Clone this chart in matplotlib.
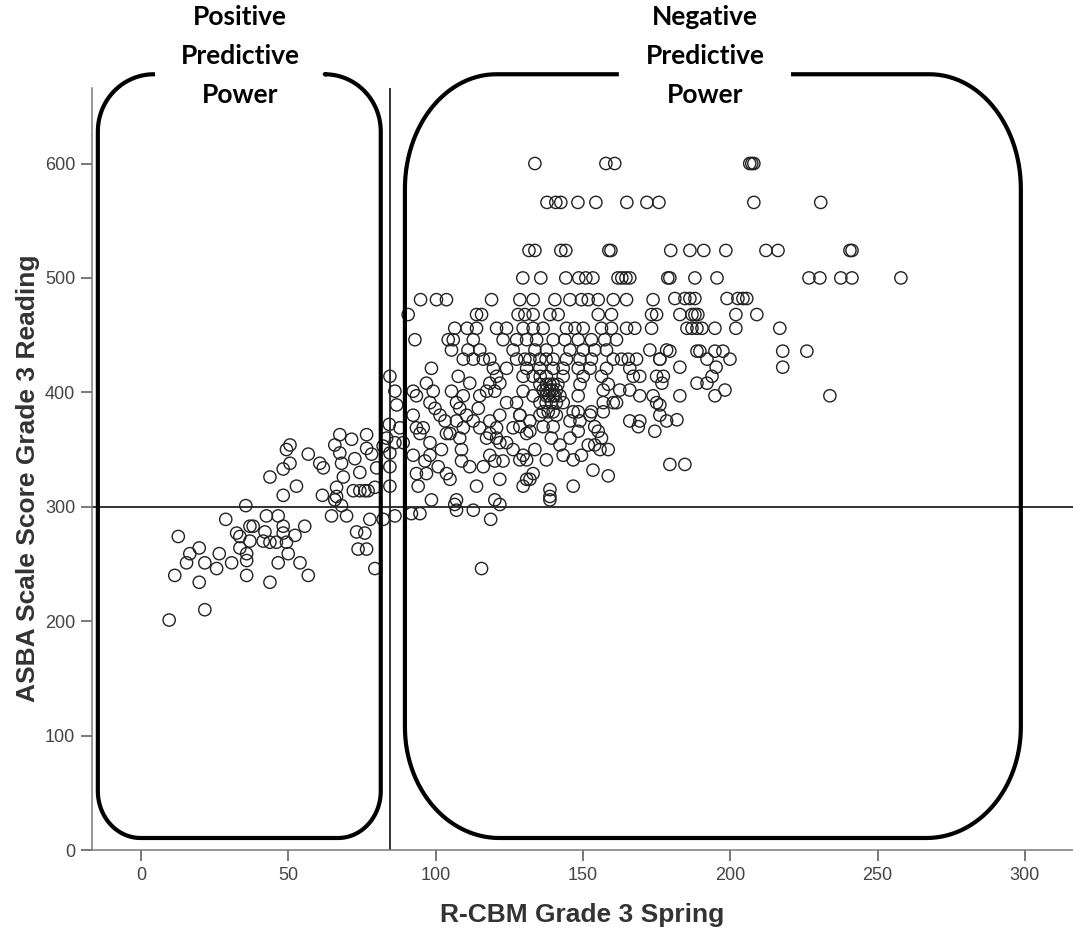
import numpy as np
import matplotlib.pyplot as plt

plt.rcParams['font.family'] = ['Liberation Sans', 'DejaVu Sans']

# left cluster (below the cut score of 85)
left_x = [67.5, 71.5, 76.6, 84.3, 86.8, 50.6, 49.4, 56.8, 65.8, 67.5,
          72.6, 76.6, 78.3, 82.2, 84.5, 50.6, 48.3, 60.7, 61.9, 68.1,
          74.3, 80.0, 84.5, 43.8, 52.8, 68.7, 66.4, 72.1, 74.3, 76.0,
          77.1, 79.4, 84.5, 48.3, 61.6, 65.8, 68.1, 66.4, 35.6, 64.7,
          69.8, 77.7, 82.2, 86.2, 28.8, 42.6, 46.6, 37.0, 38.1, 48.3,
          55.6, 12.7, 32.5, 33.6, 42.1, 48.3, 52.3, 73.2, 76.0, 37.0,
          41.5, 43.8, 46.0, 49.4, 73.7, 76.6, 19.8, 16.6, 26.6, 33.6,
          35.9, 50.0, 54.0, 46.6, 15.5, 21.7, 25.7, 30.8, 35.9, 11.5,
          35.9, 43.8, 56.8, 19.8, 79.4, 21.7, 9.6]
left_y = [363, 359, 363, 372, 389, 354, 350, 346, 354, 347,
          342, 351, 346, 353, 347, 338, 333, 338, 334, 338,
          330, 334, 335, 326, 318, 326, 317, 314, 314, 314,
          314, 317, 318, 310, 310, 306, 301, 309, 301, 292,
          292, 289, 289, 292, 289, 292, 292, 283, 283, 283,
          283, 274, 277, 274, 278, 277, 275, 278, 277, 270,
          270, 269, 269, 269, 263, 263, 264, 259, 259, 264,
          259, 259, 251, 251, 251, 251, 246, 251, 253, 240,
          240, 234, 240, 234, 246, 210, 201]

# (score, [R-CBM values]) rows, x 84-131
mid_rows = [
    (481, [94.9, 100.3, 103.7, 119.0, 128.6]),
    (468, [90.7, 113.9, 115.6, 128.0, 130.3]),
    (456, [106.5, 110.7, 113.9, 120.7, 124.1, 129.7]),
    (446, [93.0, 104.3, 106.0, 112.8, 122.9, 127.5, 130.9]),
    (437, [105.4, 111.0, 115.0, 126.3]),
    (429, [109.4, 112.8, 116.2, 118.4, 127.5, 130.3]),
    (421, [98.6, 119.6, 124.1]),
    (414, [84.5, 107.7, 120.7, 129.7]),
    (408, [96.9, 111.6, 118.4, 121.8]),
    (401, [86.2, 92.4, 99.2, 105.4, 117.3, 120.1, 129.7]),
    (397, [93.5, 109.4, 115.0]),
    (391, [98.1, 107.1, 124.1, 127.5]),
    (386, [99.8, 108.2, 114.5]),
    (380, [92.4, 101.5, 110.5, 121.8, 128.6]),
    (375, [103.2, 107.1, 112.8, 118.4]),
    (369, [87.9, 93.5, 95.8, 109.4, 115.0, 120.7, 126.3]),
    (364, [94.7, 103.7, 104.9, 118.4, 130.9]),
    (360, [83.4, 108.2, 117.3, 120.7]),
    (356, [86.2, 89.0, 98.1, 121.8, 124.1]),
    (350, [102.0, 108.8, 126.3]),
    (345, [92.4, 98.1, 118.4, 129.7]),
    (340, [96.4, 108.8, 120.1, 122.9]),
    (335, [100.9, 111.6, 116.2]),
    (329, [93.5, 96.9, 103.7]),
    (324, [104.9, 121.8]),
    (318, [94.1, 113.9, 129.7]),
    (306, [98.6, 107.1, 120.1, 138.8]),
    (302, [106.5, 121.8]),
    (297, [107.1, 112.8]),
    (294, [91.8, 94.7]),
    (289, [118.7]),
    (246, [115.6]),
]

# x 128-180
core_rows = [
    (481, [133.1, 140.5, 145.6, 149.5, 151.8, 155.2, 160.3, 164.8, 173.8]),
    (468, [133.1, 138.8, 141.6, 155.2, 159.7, 173.3, 175.0]),
    (456, [133.1, 136.5, 144.4, 147.3, 150.1, 156.3, 159.7, 164.8, 167.6, 173.3]),
    (446, [134.3, 139.9, 143.9, 148.4, 152.9, 157.4, 161.4]),
    (437, [133.7, 137.6, 145.6, 150.1, 154.0, 158.0, 172.7, 178.4]),
    (429, [132.0, 135.4, 137.5, 139.9, 144.4, 149.0, 152.9, 160.3, 163.1, 165.4,
           168.2, 176.1]),
    (421, [130.9, 135.4, 139.9, 143.3, 148.4, 152.4, 158.0, 165.9]),
    (414, [133.1, 135.5, 137.6, 143.3, 150.1, 156.3, 167.1, 169.3, 175.0, 177.3]),
    (407, [135.4, 137.6, 138.8, 139.9, 141.5, 149.0, 158.6]),
    (402, [136.5, 137.5, 138.8, 139.5, 141.0, 156.9, 162.5, 165.9]),
    (397, [133.1, 137.6, 138.5, 139.9, 140.5, 142.2, 148.4, 169.3, 173.8]),
    (391, [135.4, 137.5, 139.3, 141.0, 143.3, 156.9, 160.3, 161.4, 175.0]),
    (383, [136.5, 138.2, 139.9, 146.7, 148.4, 152.9, 156.9]),
    (380, [128.6, 135.4, 141.0, 152.4, 176.1]),
    (375, [132.0, 145.6, 149.0, 165.9, 169.3, 178.4]),
    (370, [128.6, 136.5, 139.9, 154.0, 168.8]),
    (366, [132.0, 148.4, 155.2, 174.4]),
    (360, [139.3, 145.6, 156.3]),
    (354, [142.2, 151.8, 154.0]),
    (350, [133.7, 155.8, 158.6]),
    (345, [143.3, 149.5]),
    (341, [128.6, 130.9, 137.6, 146.7]),
    (337, [179.5, 184.6]),
    (332, [153.4]),
    (329, [133.1]),
    (327, [158.6]),
    (324, [130.9, 132.0]),
    (318, [146.7]),
    (315, [138.8]),
    (309, [138.8]),
]

# x above 176
right_rows = [
    (482, [181.2, 184.6, 186.3, 188.0, 198.9, 202.6, 204.3, 205.6]),
    (468, [182.9, 187.0, 188.0, 189.0, 201.9, 209.0]),
    (456, [185.3, 187.0, 188.7, 190.4, 194.8, 201.9, 216.8]),
    (436, [179.5, 188.7, 189.7, 194.8, 197.5, 217.8, 226.0]),
    (429, [176.1, 192.1, 199.9]),
    (422, [182.9, 195.2, 217.8]),
    (414, [193.8]),
    (408, [176.8, 188.7, 192.1]),
    (402, [198.2]),
    (397, [182.9, 194.8, 233.8]),
    (389, [176.1]),
    (376, [181.9]),
]

# top score levels
top_rows = [
    (600, [133.7, 157.8, 160.8, 206.6, 207.3, 208.0]),
    (566, [137.8, 140.8, 142.5, 148.3, 154.4, 164.9, 171.7, 175.8, 208.0, 230.7]),
    (524, [131.7, 133.7, 142.5, 144.2, 158.8, 159.5, 179.8, 186.3, 191.0,
           198.5, 212.1, 216.2, 240.6, 241.3]),
    (500, [129.6, 135.7, 144.2, 148.6, 151.0, 153.4, 161.9, 163.2, 164.6, 165.9,
           178.8, 179.5, 188.0, 195.5, 226.7, 230.4, 237.5, 241.3, 257.9]),
]

cut_x = 84.5
cut_y = 300

xs = list(left_x)
ys = list(left_y)
for rows in (mid_rows, core_rows, right_rows, top_rows):
    for score, vals in rows:
        xs += vals
        ys += [score] * len(vals)

fig = plt.figure(figsize=(10.73, 9.38), dpi=100)
ax = fig.add_axes([0.0857, 0.0938, 0.9143, 0.8124])

ax.scatter(xs, ys, s=78, facecolors='none', edgecolors='#222222',
           linewidths=1.0, zorder=3)
ax.axhline(cut_y, color='#222222', lw=1.3, zorder=2)
ax.axvline(cut_x, color='#222222', lw=1.3, zorder=2)

ax.set_xlim(-16.6, 316.3)
ax.set_ylim(0, 666)
ax.set_xticks(np.arange(0, 301, 50))
ax.set_yticks(np.arange(0, 601, 100))
for s in ['top', 'right']:
    ax.spines[s].set_visible(False)
for s in ['left', 'bottom']:
    ax.spines[s].set_color('#7a7a7a')
    ax.spines[s].set_linewidth(1.1)
ax.tick_params(direction='out', length=8, width=1.1, color='#555555',
               labelsize=13, labelcolor='#444444', pad=4)


def rounded_box(x0, x1, y0, y1, rt, rb, gap):
    # rt, rb: (rx, ry) of top and bottom corners, gap: opening in top edge
    t = np.linspace(0, np.pi / 2, 30)
    px = [gap[1], x1 - rt[0]]
    py = [y1, y1]
    px += list(x1 - rt[0] + rt[0] * np.sin(t))
    py += list(y1 - rt[1] + rt[1] * np.cos(t))
    px += list(x1 - rb[0] + rb[0] * np.cos(t))
    py += list(y0 + rb[1] - rb[1] * np.sin(t))
    px += list(x0 + rb[0] - rb[0] * np.sin(t))
    py += list(y0 + rb[1] - rb[1] * np.cos(t))
    px += list(x0 + rt[0] - rt[0] * np.cos(t))
    py += list(y1 - rt[1] + rt[1] * np.sin(t))
    px += [gap[0]]
    py += [y1]
    ax.plot(px, py, color='black', lw=3.0, clip_on=False,
            solid_capstyle='butt', zorder=4)


rounded_box(-14.6, 81.4, 10.5, 678, (19, 50), (14.5, 41), (4.8, 63.1))
rounded_box(89.6, 298.6, 10.5, 678, (31, 100), (32, 97), (162.2, 220.6))

ax.text(33.6, 693.6, 'Positive\nPredictive\nPower', ha='center', va='center',
        fontsize=19, fontweight='bold', family='Lato', linespacing=1.75,
        clip_on=False)
ax.text(191.4, 693.6, 'Negative\nPredictive\nPower', ha='center', va='center',
        fontsize=19, fontweight='bold', family='Lato', linespacing=1.75,
        clip_on=False)

fig.text(0.5424, 0.0245, 'R-CBM Grade 3 Spring', ha='center', va='center',
         fontsize=19, fontweight='bold', color='#333333')
fig.text(0.0261, 0.4904, 'ASBA Scale Score Grade 3 Reading', ha='center',
         va='center', rotation=90, fontsize=19, fontweight='bold',
         color='#333333')

fig.savefig('out.png', dpi=100)
